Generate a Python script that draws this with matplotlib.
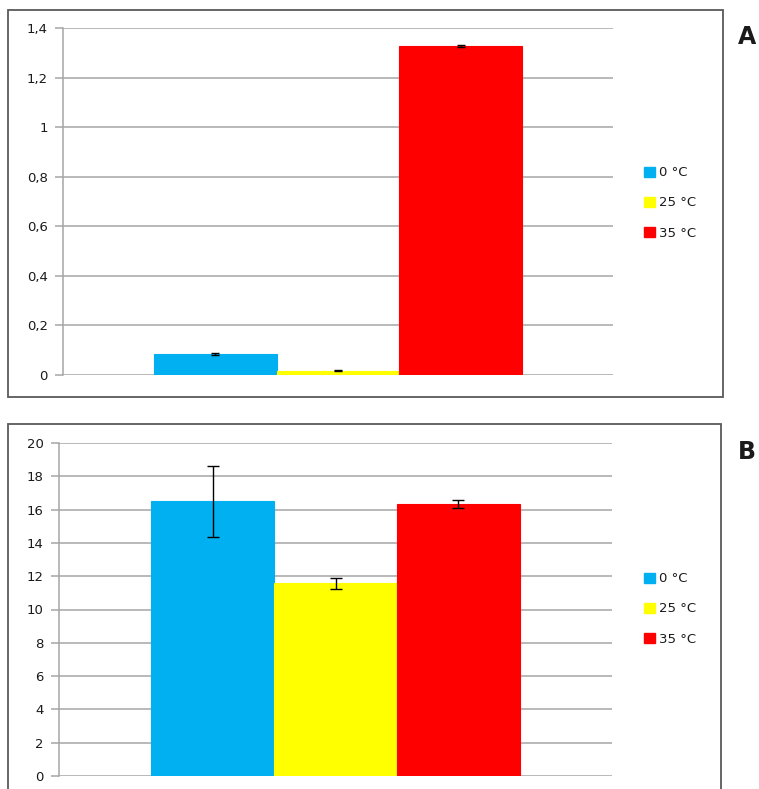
import matplotlib
matplotlib.use("Agg")
import matplotlib.pyplot as plt
from matplotlib.patches import Rectangle, Patch

# Series labels and colours
temps = ["0 °C", "25 °C", "35 °C"]
colors = ["#00B0F0", "#FFFF00", "#FF0000"]

# Panel A values and errors
a_values = [0.085, 0.017, 1.328]
a_errors = [0.005, 0.002, 0.004]
a_ticks = [0, 0.2, 0.4, 0.6, 0.8, 1.0, 1.2, 1.4]
a_ticklabels = ["0", "0,2", "0,4", "0,6", "0,8", "1", "1,2", "1,4"]

# Panel B values and errors
b_values = [16.5, 11.57, 16.34]
b_errors = [2.12, 0.35, 0.25]
b_ticks = [0, 2, 4, 6, 8, 10, 12, 14, 16, 18, 20]
b_ticklabels = [str(t) for t in b_ticks]

W, H = 759, 789
fig = plt.figure(figsize=(W / 100, H / 100), dpi=100)
fig.patch.set_facecolor("white")
plt.rcParams["font.family"] = ["DejaVu Sans"]

grid_col = "#A6A6A6"
text_col = "#1a1a1a"
fs = 9.5


def px_rect(x0, y0, x1, y1):
    # pixel box (top-left origin) -> figure fraction [l, b, w, h]
    return [x0 / W, 1 - y1 / H, (x1 - x0) / W, (y1 - y0) / H]


def frame(x0, y0, x1, y1):
    l, b, w, h = px_rect(x0, y0, x1, y1)
    fig.patches.append(Rectangle((l, b), w, h, transform=fig.transFigure,
                                 fill=False, edgecolor="#595959", lw=1.3,
                                 zorder=0))


def panel(ax, values, errors, ticks, ticklabels, ymax, half_span, capsize):
    xs = [-1, 0, 1]
    for x, v, e, c in zip(xs, values, errors, colors):
        ax.bar(x, v, width=1.0, color=c, edgecolor=c, linewidth=0.8,
               zorder=2)
        ax.errorbar(x, v, yerr=e, fmt="none", ecolor="black", elinewidth=1.0,
                    capsize=capsize, capthick=1.0, zorder=3)
    ax.set_xlim(-half_span, half_span)
    ax.set_ylim(0, ymax)
    ax.set_yticks(ticks)
    ax.set_yticklabels(ticklabels, fontsize=fs, color=text_col)
    ax.set_xticks([])
    ax.yaxis.grid(True, color=grid_col, linewidth=1.1, zorder=0)
    ax.set_axisbelow(True)
    for s in ["top", "right", "bottom"]:
        ax.spines[s].set_visible(False)
    ax.spines["left"].set_color(grid_col)
    ax.spines["left"].set_linewidth(1.1)
    ax.tick_params(axis="y", direction="out", length=6, width=1.1,
                   color=grid_col, pad=5)
    ax.patch.set_alpha(0)


# Panel A
frame(8, 10, 723, 397)
axA = fig.add_axes(px_rect(63, 28, 613, 375))
panel(axA, a_values, a_errors, a_ticks, a_ticklabels, 1.4, 2.242, 3)

# Panel B
frame(8, 424, 721, 800)
axB = fig.add_axes(px_rect(59, 443, 612, 776))
panel(axB, b_values, b_errors, b_ticks, b_ticklabels, 20, 2.254, 4)

handles = [Patch(facecolor=c, edgecolor=c) for c in colors]
for ax, yc in [(axA, 203), (axB, 609)]:
    ax.legend(handles, temps, loc="center left",
              bbox_to_anchor=(644 / W, 1 - yc / H),
              bbox_transform=fig.transFigure, frameon=False,
              fontsize=fs, handlelength=0.85, handleheight=0.85,
              handletextpad=0.3, labelspacing=1.3, borderpad=0,
              borderaxespad=0, labelcolor=text_col)

fig.text(747 / W, 1 - 37 / H, "A", fontsize=17, fontweight="bold",
         ha="center", va="center", color=text_col)
fig.text(747 / W, 1 - 452 / H, "B", fontsize=17, fontweight="bold",
         ha="center", va="center", color=text_col)

fig.savefig("out.png", dpi=100, facecolor="white")
